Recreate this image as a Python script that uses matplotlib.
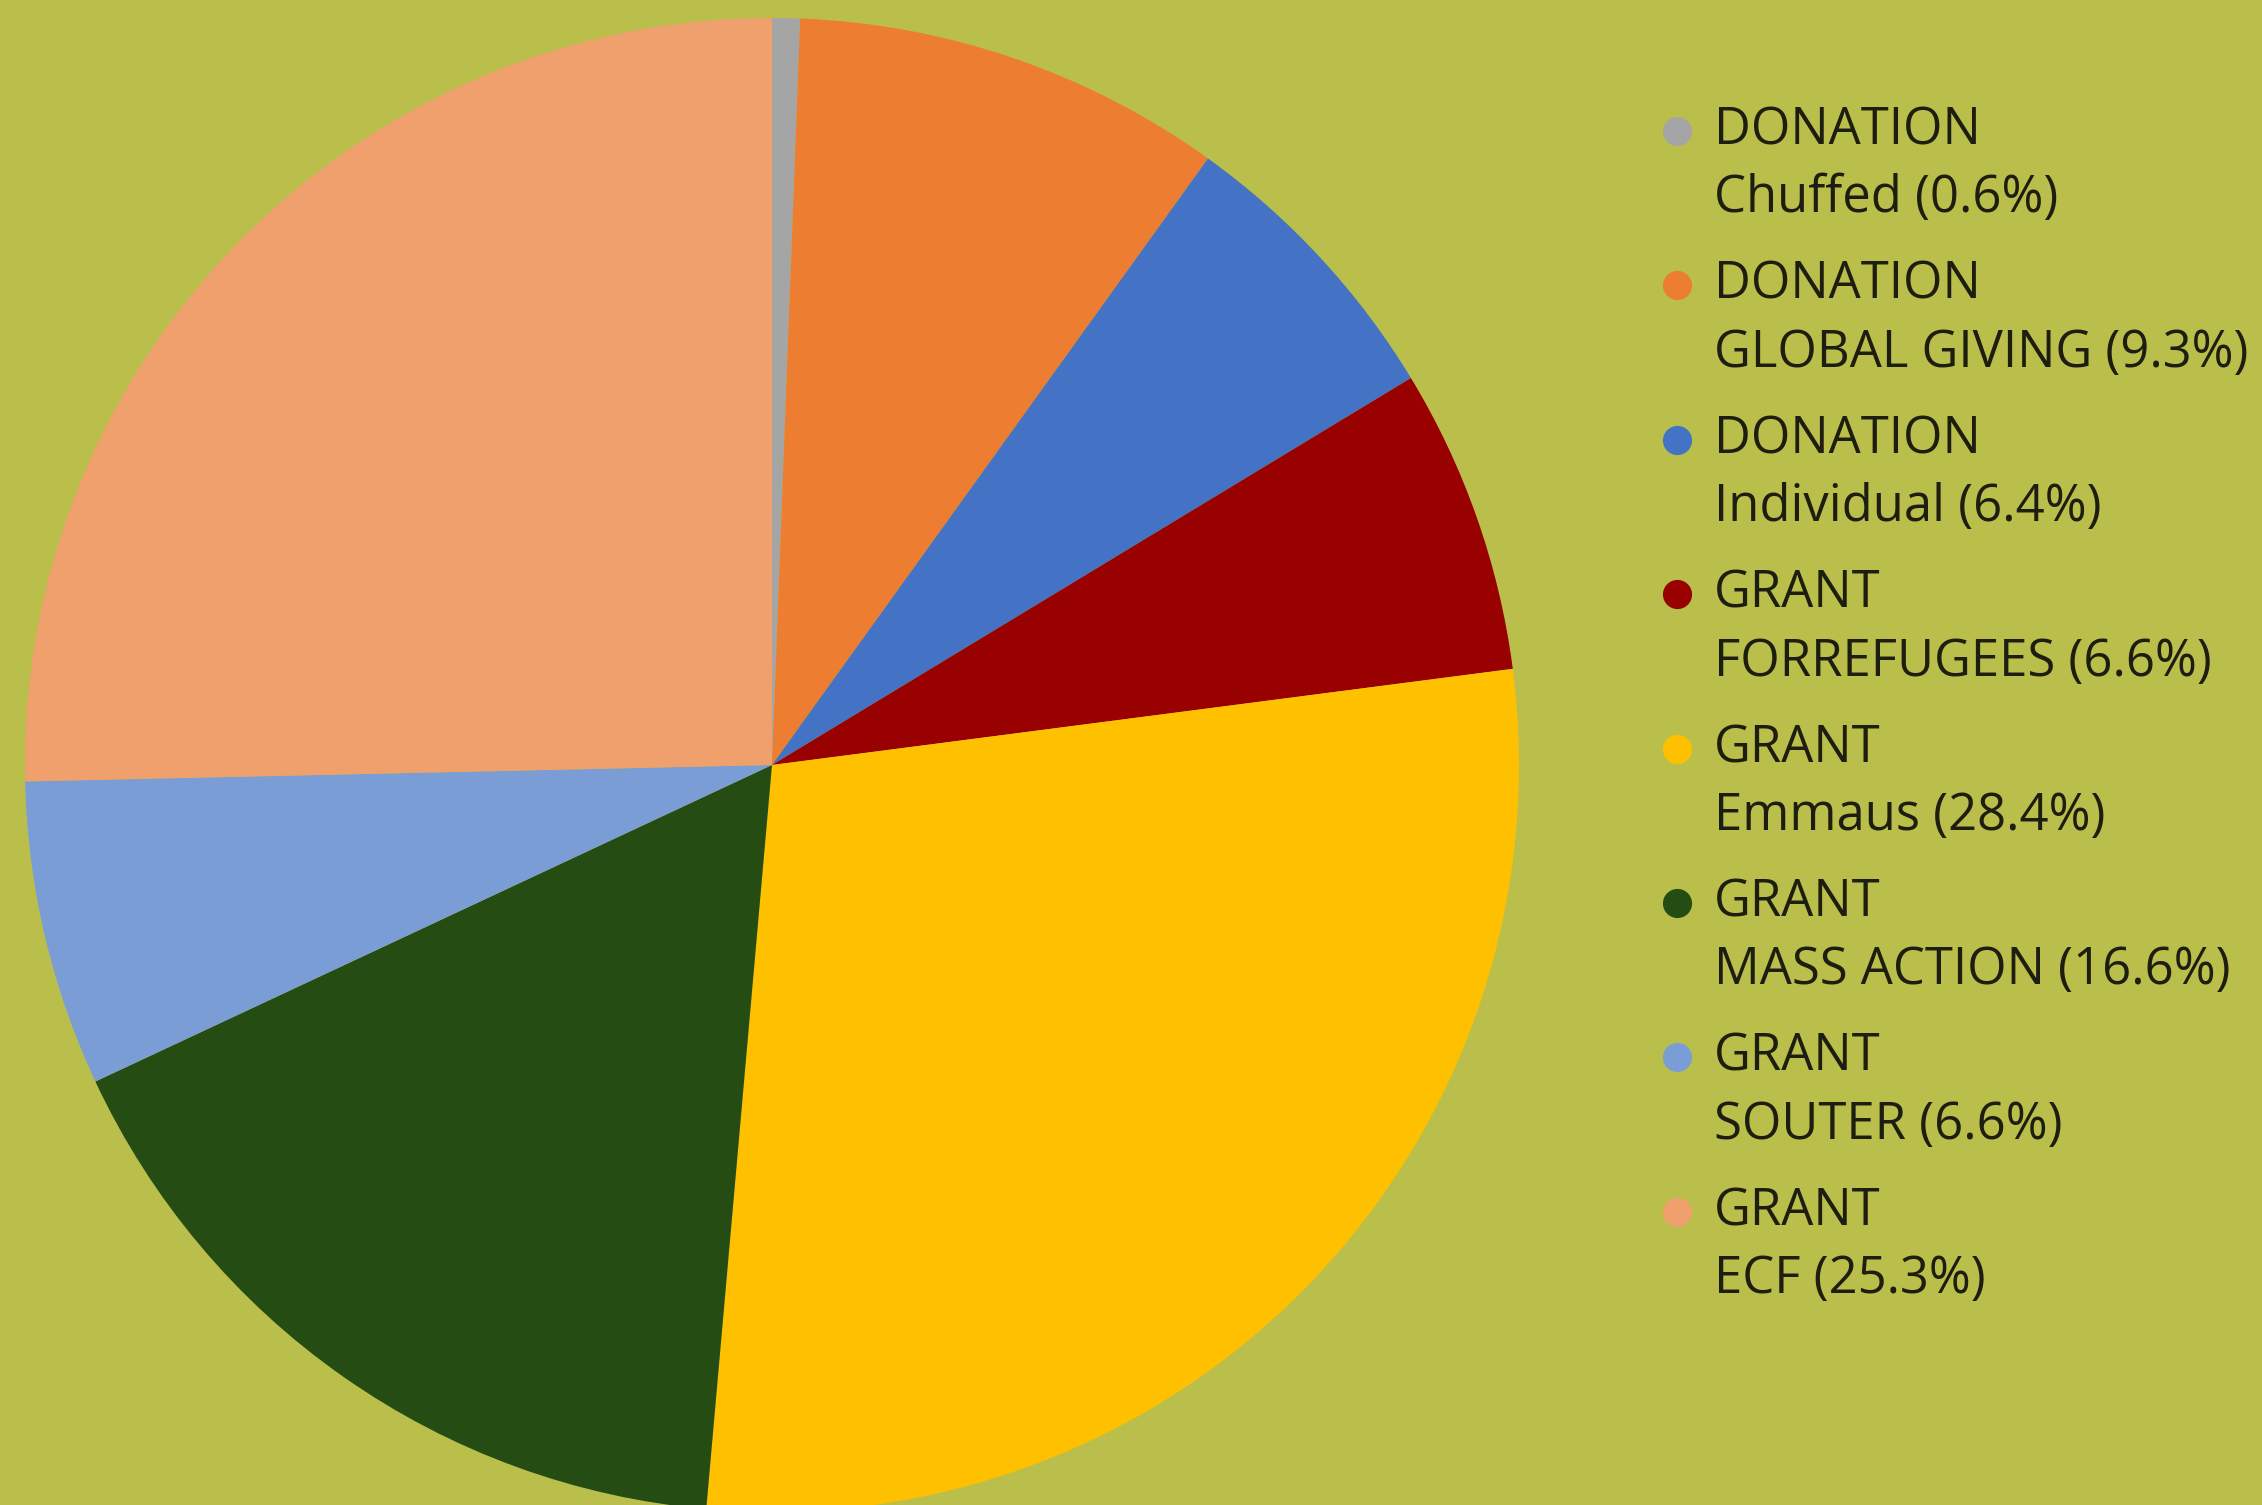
import matplotlib.pyplot as plt

# data
kinds = ['DONATION', 'DONATION', 'DONATION', 'GRANT', 'GRANT', 'GRANT', 'GRANT', 'GRANT']
names = ['Chuffed', 'GLOBAL GIVING', 'Individual', 'FORREFUGEES', 'Emmaus',
         'MASS ACTION', 'SOUTER', 'ECF']
shares = [0.6, 9.3, 6.4, 6.6, 28.4, 16.6, 6.6, 25.3]
colors = ['#A5A5A5', '#ED7D31', '#4472C4', '#990000', '#FFC000',
          '#244C13', '#7A9DD6', '#EFA06C']

bg = '#BABF4B'
W, H = 2262, 1505
fig = plt.figure(figsize=(W / 100, H / 100), dpi=100, facecolor=bg)
ax = fig.add_axes([0, 0, 1, 1])
ax.set_facecolor(bg)

# pie centre and radius in pixels
cx, cy, r = 772, 765, 747
ax.pie(shares, colors=colors, startangle=90, counterclock=False,
       radius=1, wedgeprops=dict(linewidth=0))
ax.set_aspect('auto')
ax.set_xlim(-cx / r, (W - cx) / r)
ax.set_ylim(-(H - cy) / r, cy / r)
ax.axis('off')

# legend, drawn by hand
font = ['Open Sans', 'DejaVu Sans']
txt_col = '#1E1E10'
for i, (k, n, v, c) in enumerate(zip(kinds, names, shares, colors)):
    y1 = 131 + i * 154.4
    y2 = y1 + 68
    fig.add_artist(plt.Line2D([1677 / W], [1 - y1 / H], marker='o', markersize=21,
                              color=c, markeredgewidth=0, transform=fig.transFigure))
    fig.text(1714 / W, 1 - y1 / H, k, fontsize=36.5, family=font, color=txt_col,
             va='center', ha='left')
    fig.text(1714 / W, 1 - y2 / H, f'{n} ({v}%)', fontsize=36.5, family=font,
             color=txt_col, va='center', ha='left')

fig.savefig('out.png', dpi=100, facecolor=bg)
